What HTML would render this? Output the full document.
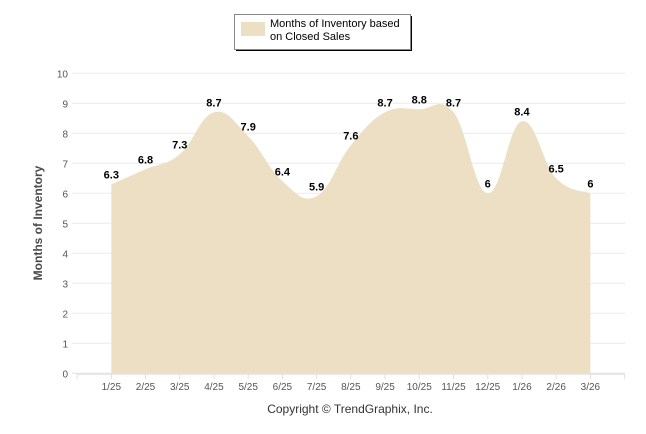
<!DOCTYPE html>
<html><head><meta charset="utf-8"><style>
body{margin:0;background:#fff;font-family:"Liberation Sans",sans-serif}
svg{display:block}
</style></head><body>
<svg id="c" width="646" height="434"></svg>
<script>
const categories=["1/25","2/25","3/25","4/25","5/25","6/25","7/25","8/25","9/25","10/25","11/25","12/25","1/26","2/26","3/26"];
const values=[6.3,6.8,7.3,8.7,7.9,6.4,5.9,7.6,8.7,8.8,8.7,6,8.4,6.5,6];
const valueLabels=["6.3","6.8","7.3","8.7","7.9","6.4","5.9","7.6","8.7","8.8","8.7","6","8.4","6.5","6"];
const yTicks=[0,1,2,3,4,5,6,7,8,9,10];
const NS="http://www.w3.org/2000/svg";
const svg=document.getElementById('c');
function xs(i){return 111.3+34.22*i;}
function ys(v){return 373.3-30*v;}
function mk(t,a,txt){const e=document.createElementNS(NS,t);for(const k in a)e.setAttribute(k,a[k]);if(txt!==undefined)e.textContent=txt;svg.appendChild(e);return e;}
yTicks.forEach(v=>{
  const g=mk('line',{x1:72,x2:625,y1:ys(v),y2:ys(v),stroke:v===0?'#e0e0e0':'#ececec','stroke-width':1});
  
  
  const t=mk('text',{x:68,y:ys(v)+4,'text-anchor':'end','font-size':10,fill:'#555'},String(v));
  
  
});
// area spline
const pts=values.map((v,i)=>[xs(i),ys(v)]);
let d='M'+pts[0][0]+','+ys(0)+' L'+pts[0][0]+','+pts[0][1];
for(let i=0;i<pts.length-1;i++){
  const p0=pts[Math.max(i-1,0)],p1=pts[i],p2=pts[i+1],p3=pts[Math.min(i+2,pts.length-1)];
  const k=1/5;
  const c1=[p1[0]+(p2[0]-p0[0])*k,p1[1]+(p2[1]-p0[1])*k];
  const c2=[p2[0]-(p3[0]-p1[0])*k,p2[1]-(p3[1]-p1[1])*k];
  d+=' C'+c1[0]+','+c1[1]+' '+c2[0]+','+c2[1]+' '+p2[0]+','+p2[1];
}
d+=' L'+pts[pts.length-1][0]+','+ys(0)+' Z';
const area=mk('path',{d:d,fill:'#ecdfc4'});


// x-axis
const ax=mk('line',{x1:77,x2:625,y1:ys(0)+1,y2:ys(0)+1,stroke:'#e0e0e0'});


for(let i=-1;i<=categories.length;i++){
  const tk=mk('line',{x1:xs(i),x2:xs(i),y1:ys(0)+1,y2:ys(0)+6,stroke:'#e0e0e0'});
  
  
}
categories.forEach((c,i)=>{
  const t=mk('text',{x:xs(i),y:390,'text-anchor':'middle','font-size':10,fill:'#555'},c);
  
  
});
values.forEach((v,i)=>{
  const t=mk('text',{x:xs(i),y:ys(v)-6,'text-anchor':'middle','font-size':11,'font-weight':'bold',fill:'#000'},valueLabels[i]);
  
  
});
const yt=mk('text',{x:0,y:0,'text-anchor':'middle','font-size':12,'font-weight':'bold',fill:'#4a4a4a',transform:'translate(42,223) rotate(-90)'},'Months of Inventory');


const cp=mk('text',{x:350,y:413,'text-anchor':'middle','font-size':12,fill:'#333'},'Copyright © TrendGraphix, Inc.');


// legend
const lb=mk('rect',{x:236,y:16,width:176,height:35,fill:'#000'});


const lg=mk('rect',{x:234.5,y:14.5,width:176,height:35,fill:'#fff',stroke:'#888'});


const sw=mk('rect',{x:241,y:22,width:24,height:14,fill:'#ecdfc4'});


const l1=mk('text',{x:270,y:27,'font-size':11,fill:'#000'},'Months of Inventory based');


const l2=mk('text',{x:270,y:40,'font-size':11,fill:'#000'},'on Closed Sales');


</script>
</body></html>
